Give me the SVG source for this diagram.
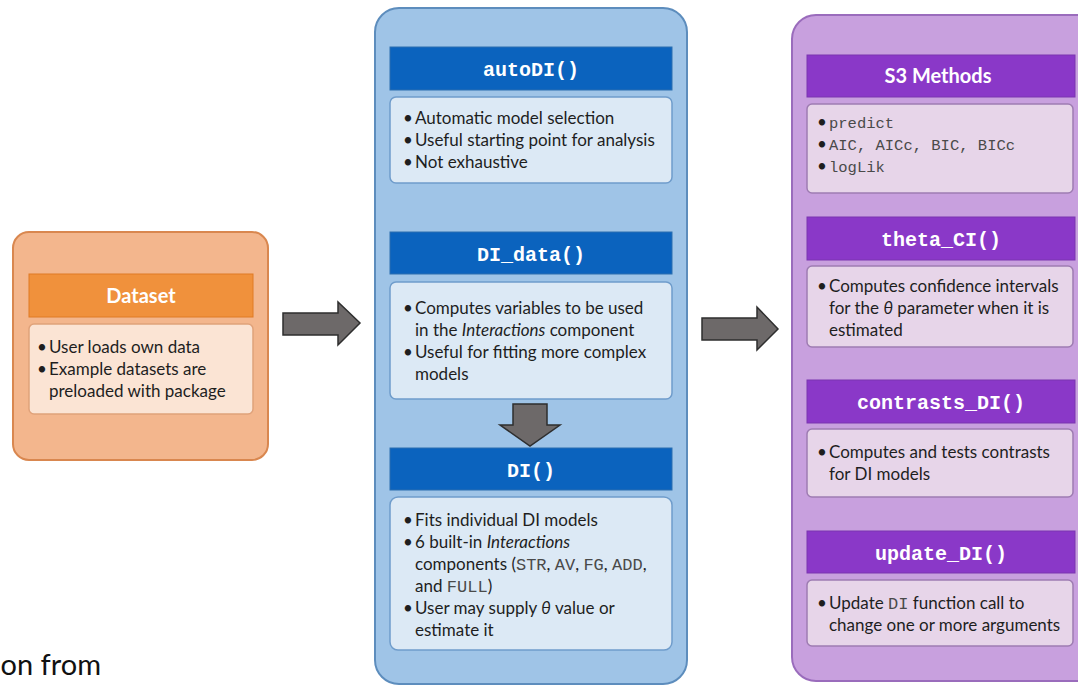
<svg xmlns="http://www.w3.org/2000/svg" width="1078" height="686" viewBox="0 0 1078 686">
<style>
.body{font-family:Lato,"Open Sans",sans-serif;font-size:17px;fill:#1e1e1e}
.hm{font-family:"Liberation Mono",monospace;font-size:20px;font-weight:bold;fill:#fff}
.hs{font-family:Lato,"Open Sans",sans-serif;font-size:20px;font-weight:bold;fill:#fff}
.bhead{fill:#0b63be;stroke:#2d6fb0;stroke-width:1}
.bbody{fill:#dce9f5;stroke:#6f9ccb;stroke-width:1.5}
.phead{fill:#8a38c8;stroke:#7a35b0;stroke-width:1}
.pbody{fill:#e7d5e9;stroke:#9e7cb2;stroke-width:1.5}
.arrow{fill:#6d6969;stroke:#2e2e2e;stroke-width:1.5;stroke-linejoin:miter}
.cm{font-family:"Liberation Mono",monospace;fill:#4a4a4a}
</style>
<rect width="1078" height="686" fill="#fff"/>

<g id="dataset">
<rect x="13" y="232" width="255" height="228" rx="16" fill="#f3b68d" stroke="#d9874f" stroke-width="2"/>
<rect x="29" y="274" width="224" height="43" fill="#f0913c" stroke="#e07a25"/>
<text class="hs" x="141" y="303" text-anchor="middle">Dataset</text>
<rect x="29" y="324" width="224" height="90" rx="5" fill="#fbe4d4" stroke="#e0a27a" stroke-width="1.5"/>
<text class="body" x="37" y="353">•</text><text class="body" x="49" y="353">User loads own data</text>
<text class="body" x="37" y="375">•</text><text class="body" x="49" y="375">Example datasets are</text>
<text class="body" x="49" y="397">preloaded with package</text>
</g>

<g id="middle-panel">
<rect x="375" y="8" width="312" height="676" rx="24" fill="#9fc4e7" stroke="#5d8dbd" stroke-width="2"/>
</g>

<g id="autoDI">
<rect class="bhead" x="390" y="47" width="282" height="43"/>
<text class="hm" x="531" y="76" text-anchor="middle">autoDI()</text>
<rect class="bbody" x="390" y="97" width="282" height="86" rx="6"/>
<text class="body" x="403" y="124">•</text><text class="body" x="415" y="124">Automatic model selection</text>
<text class="body" x="403" y="146">•</text><text class="body" x="415" y="146">Useful starting point for analysis</text>
<text class="body" x="403" y="168">•</text><text class="body" x="415" y="168">Not exhaustive</text>
</g>

<g id="DI_data">
<rect class="bhead" x="390" y="232" width="282" height="42"/>
<text class="hm" x="531" y="261" text-anchor="middle">DI_data()</text>
<rect class="bbody" x="390" y="282" width="282" height="117" rx="6"/>
<text class="body" x="403" y="314">•</text><text class="body" x="415" y="314">Computes variables to be used</text>
<text class="body" x="415" y="336">in the <tspan font-style="italic">Interactions</tspan> component</text>
<text class="body" x="403" y="358">•</text><text class="body" x="415" y="358">Useful for fitting more complex</text>
<text class="body" x="415" y="380">models</text>
</g>

<g id="DI">
<rect class="bhead" x="390" y="448" width="282" height="42"/>
<text class="hm" x="531" y="477" text-anchor="middle">DI()</text>
<rect class="bbody" x="390" y="497" width="282" height="153" rx="8"/>
<text class="body" x="403" y="526">•</text><text class="body" x="415" y="526">Fits individual DI models</text>
<text class="body" x="403" y="548">•</text><text class="body" x="415" y="548">6 built-in <tspan font-style="italic">Interactions</tspan></text>
<text class="body" x="415" y="570">components (<tspan class="cm">STR</tspan>, <tspan class="cm">AV</tspan>, <tspan class="cm">FG</tspan>, <tspan class="cm">ADD</tspan>,</text>
<text class="body" x="415" y="592">and <tspan class="cm">FULL</tspan>)</text>
<text class="body" x="403" y="614">•</text><text class="body" x="415" y="614">User may supply <tspan font-style="italic">θ</tspan> value or</text>
<text class="body" x="415" y="636">estimate it</text>
</g>

<g id="right-panel">
<rect x="792" y="15" width="310" height="666" rx="24" fill="#c8a0de" stroke="#9a6cbc" stroke-width="2"/>
</g>

<g id="S3">
<rect class="phead" x="807" y="55" width="268" height="42"/>
<text class="hs" x="938" y="83" text-anchor="middle">S3 Methods</text>
<rect class="pbody" x="807" y="104" width="266" height="89" rx="5"/>
<text class="body" x="817" y="128">•</text><text class="cm" font-size="15.5" x="829" y="128" fill="#333">predict</text>
<text class="body" x="817" y="150">•</text><text class="cm" font-size="15.5" x="829" y="150" fill="#333">AIC, AICc, BIC, BICc</text>
<text class="body" x="817" y="172">•</text><text class="cm" font-size="15.5" x="829" y="172" fill="#333">logLik</text>
</g>

<g id="theta_CI">
<rect class="phead" x="807" y="217" width="268" height="43"/>
<text class="hm" x="941" y="246" text-anchor="middle">theta_CI()</text>
<rect class="pbody" x="807" y="266" width="266" height="81" rx="5"/>
<text class="body" x="817" y="292">•</text><text class="body" x="829" y="292">Computes confidence intervals</text>
<text class="body" x="829" y="314">for the <tspan font-style="italic">θ</tspan> parameter when it is</text>
<text class="body" x="829" y="336">estimated</text>
</g>

<g id="contrasts_DI">
<rect class="phead" x="807" y="380" width="268" height="43"/>
<text class="hm" x="941" y="409" text-anchor="middle">contrasts_DI()</text>
<rect class="pbody" x="807" y="429" width="266" height="68" rx="5"/>
<text class="body" x="817" y="458">•</text><text class="body" x="829" y="458">Computes and tests contrasts</text>
<text class="body" x="829" y="480">for DI models</text>
</g>

<g id="update_DI">
<rect class="phead" x="807" y="531" width="268" height="42"/>
<text class="hm" x="941" y="560" text-anchor="middle">update_DI()</text>
<rect class="pbody" x="807" y="580" width="266" height="66" rx="5"/>
<text class="body" x="817" y="609">•</text><text class="body" x="829" y="609">Update <tspan class="cm">DI</tspan> function call to</text>
<text class="body" x="829" y="631">change one or more arguments</text>
</g>

<g id="connectors">
<polygon class="arrow" points="283,313 338,313 338,302 360,323 338,345 338,335 283,335"/>
<polygon class="arrow" points="702,318 757,318 757,307 778,329 757,350 757,340 702,340"/>
<polygon class="arrow" points="513,404 547,404 547,425 560,425 530,446 500,425 513,425"/>
</g>

<text x="101" y="675" text-anchor="end" font-family="Lato,'Open Sans',sans-serif" font-size="29" fill="#111">on from</text>
</svg>
